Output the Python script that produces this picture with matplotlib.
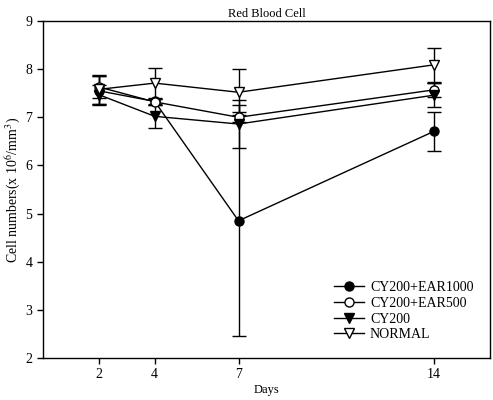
import matplotlib.pyplot as plt

days = [2, 4, 7, 14]

ear1000 = [7.55, 7.33, 4.85, 6.71]
ear1000_err = [0.30, 0.05, 2.40, 0.40]
ear500 = [7.63, 7.32, 7.00, 7.57]
ear500_err = [0.22, 0.06, 0.10, 0.15]
cy200 = [7.47, 7.02, 6.86, 7.46]
cy200_err = [0.20, 0.24, 0.50, 0.25]
normal = [7.58, 7.71, 7.52, 8.09]
normal_err = [0.30, 0.31, 0.48, 0.35]

plt.rcParams['font.family'] = ['Liberation Serif', 'DejaVu Serif']
plt.rcParams['mathtext.fontset'] = 'stix'

fig = plt.figure(figsize=(4.93, 4.0), dpi=100)
ax = fig.add_axes([0.087, 0.105, 0.907, 0.8425])

series = [
    ("CY200+EAR1000", ear1000, ear1000_err, 'o', 'black'),
    ("CY200+EAR500", ear500, ear500_err, 'o', 'white'),
    ("CY200", cy200, cy200_err, 'v', 'black'),
    ("NORMAL", normal, normal_err, 'v', 'white'),
]

handles = []
for label, vals, errs, marker, face in series:
    c = ax.errorbar(days, vals, yerr=errs, marker=marker, markersize=6.5,
                    markerfacecolor=face, markeredgecolor='black', color='black',
                    linewidth=1, elinewidth=1, capsize=5, capthick=1, label=label)
    handles.append(c[0])

ax.set_xlim(0, 16)
ax.set_ylim(2, 9)
ax.set_xticks(days)
ax.set_yticks(range(2, 10))
ax.tick_params(labelsize=10, length=4, width=1, direction='out')
for s in ax.spines.values():
    s.set_linewidth(1)

ax.set_title("Red Blood Cell", fontsize=9, pad=3)
ax.set_xlabel("Days", fontsize=9, labelpad=2)
ax.set_ylabel("Cell numbers(x 10$^6$/mm$^3$)", fontsize=10, labelpad=2)

ax.legend(handles, [s[0] for s in series], loc='lower right', frameon=False,
          fontsize=10, handlelength=2.2, labelspacing=0.2, handletextpad=0.4,
          borderaxespad=0.8)

fig.savefig("out.png", dpi=100)
